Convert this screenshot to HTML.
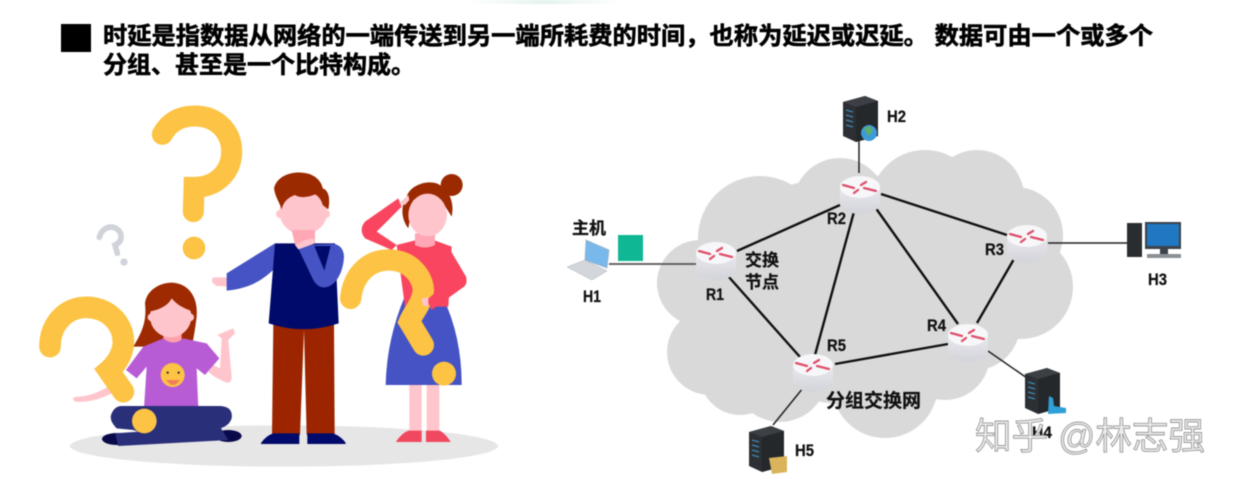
<!DOCTYPE html>
<html><head><meta charset="utf-8">
<style>
html,body{margin:0;padding:0;background:#fff;width:1236px;height:486px;overflow:hidden}
svg{display:block;position:absolute;left:0;top:0;filter:blur(.45px)}
.h{font:700 24px/1 "Liberation Sans","Noto Sans CJK SC",sans-serif;fill:#000;stroke:#000;stroke-width:.6px}
.l{font:700 17px "Liberation Sans","Noto Sans CJK SC",sans-serif;fill:#111;stroke:#111;stroke-width:.25px}
</style></head><body>
<svg width="1236" height="486" viewBox="0 0 1236 486" xmlns="http://www.w3.org/2000/svg">
<defs>
<linearGradient id="tg" x1="0" x2="1"><stop offset="0" stop-color="#fff"/><stop offset=".5" stop-color="#e3f3ee"/><stop offset="1" stop-color="#fff"/></linearGradient>
<linearGradient id="rb" x1="0" y1="0" x2="0" y2="1"><stop offset="0" stop-color="#e9e9ee"/><stop offset="1" stop-color="#d3d4da"/></linearGradient>
<g id="r">
<path d="M-20 0V17C-20 23-9 27 0 27S20 23 20 17V0Z" fill="url(#rb)"/>
<ellipse cx="0" cy="0" rx="20" ry="11" fill="#f7f7f9"/>
<g stroke="#df4f6c" stroke-width="2.3" fill="none" stroke-linecap="round">
<path d="M-17-2L-6 1M-6 6L-2 3M1-2L6-5M4 1L16 4"/>
</g>
</g>
<g id="s">
<path d="M0 6L22 0L35 5V40L13 46L0 40Z" fill="#2c2f33"/>
<path d="M0 6L22 0L35 5L13 11Z" fill="#3c4045"/>
<path d="M13 11L35 5V40L13 46Z" fill="#25282b"/>
<g stroke="#3f88b0" stroke-width="1.4"><path d="M3 14L10 16M3 19L10 21M3 24L10 26M3 29L10 31"/></g>
</g>
</defs>
<rect x="470" y="0" width="150" height="4" fill="url(#tg)"/>

<!-- heading -->
<rect x="61" y="24" width="30" height="28" fill="#000"/>
<text class="h" x="103" y="44" textLength="1050" lengthAdjust="spacingAndGlyphs">时延是指数据从网络的一端传送到另一端所耗费的时间，也称为延迟或迟延。 数据可由一个或多个</text>
<text class="h" x="103" y="73">分组、甚至是一个比特构成。</text>

<!-- illustration -->
<g transform="translate(0,90) scale(.33333)">
<ellipse cx="852" cy="1068" rx="642" ry="62" fill="#e6e6e6"/>
<!-- big ? -->
<path d="M487 133C510 92 545 78 585 78C650 78 695 125 695 185C695 245 650 292 582 292L580 365" fill="none" stroke="#fcc344" stroke-width="63" stroke-linecap="round"/>
<circle cx="582" cy="474" r="34" fill="#fcc344"/>
<!-- small ? -->
<path d="M298 442C305 415 330 405 348 415C370 430 368 455 345 465L352 490" fill="none" stroke="#d0d3d9" stroke-width="17" stroke-linecap="round"/>
<circle cx="372" cy="516" r="11" fill="#d0d3d9"/>

<!-- seated girl -->
<path d="M400 770C430 720 440 690 435 640C440 600 480 578 515 578C565 580 595 620 590 680C585 720 580 750 575 770Z" fill="#9d2a00"/>
<path d="M228 920C270 920 300 905 340 880L345 905C300 930 260 938 225 935Q212 925 228 920Z" fill="#ffc5cc"/>
<path d="M640 825L660 835L665 745L652 735L675 725L700 715L705 730L685 750L695 860Q695 880 680 878C660 870 640 860 625 845Z" fill="#ffc5cc"/>
<path d="M490 725H545V755Q520 775 490 755Z" fill="#ffa0ac"/>
<circle cx="512" cy="680" r="62" fill="#ffc5cc"/>
<circle cx="455" cy="682" r="12" fill="#ffc5cc"/><circle cx="570" cy="682" r="12" fill="#ffc5cc"/>
<path d="M445 665C480 660 505 645 515 625C530 645 560 660 585 665C590 620 555 585 510 585C470 585 440 620 445 665Z" fill="#9d2a00"/>
<path d="M430 770L490 745Q520 770 550 745L620 760L658 805L615 855L590 835L595 955H432L440 830L410 865L378 840Z" fill="#b85cd6"/>
<circle cx="518" cy="855" r="36" fill="#fcc344"/>
<path d="M498 870H540Q520 900 498 870Z" fill="#f07f5a"/>
<circle cx="503" cy="848" r="3.5" fill="#333"/><circle cx="536" cy="848" r="3.5" fill="#333"/>
<ellipse cx="350" cy="1047" rx="44" ry="18" fill="#0a0a4a"/>
<ellipse cx="685" cy="1038" rx="40" ry="18" fill="#0a0a4a"/>
<path d="M345 1030L660 1010L685 1050L355 1068Z" fill="#2a2f7a"/>
<path d="M365 948H660Q700 950 695 985Q685 1015 640 1018L480 1050L400 1020L350 1015Q325 990 335 970Q345 948 365 948Z" fill="#2a2f7a"/>
<!-- left ? -->
<path d="M150 770C150 700 200 650 262 652C330 655 372 705 370 760C368 800 340 830 326 842L370 905" fill="none" stroke="#fcc344" stroke-width="65" stroke-linecap="round"/>
<circle cx="433" cy="993" r="37" fill="#fcc344"/>

<!-- man -->
<path d="M640 562L690 562L690 590L650 588Q628 575 640 562Z" fill="#ffc5cc"/>
<path d="M825 460L680 550L680 602C750 595 790 570 830 530Z" fill="#4653c4"/>
<path d="M820 700H1002L1004 1035H920L912 720L900 1035H816Z" fill="#9c2500"/>
<path d="M782 1060Q800 1035 820 1030H898V1062H785ZM922 1030H1000Q1025 1040 1038 1060L1035 1062H922Z" fill="#000a6a"/>
<path d="M825 460L1005 460L1016 700Q910 735 806 700Z" fill="#000a6a"/>
<ellipse cx="910" cy="365" rx="72" ry="68" fill="#ffc5cc"/>
<circle cx="840" cy="372" r="12" fill="#ffc5cc"/><circle cx="978" cy="372" r="12" fill="#ffc5cc"/>
<path d="M875 420H945V460L915 465L885 465Z" fill="#ffa7b4"/>
<path d="M845 358C840 340 825 320 822 295C830 260 870 245 905 248C945 250 965 275 968 295C985 300 992 325 985 358L968 345C965 330 955 318 945 313C925 322 900 325 885 315C865 322 850 335 845 358Z" fill="#9c2a00"/>
<path d="M890 465L1000 462Q1030 465 1032 500C1030 550 1005 590 975 592Q950 595 935 560Z" fill="#4653c4"/>
<path d="M992 468L973 542L943 468Z" fill="#000a6a"/>
<path d="M940 445Q925 445 905 455L885 465L895 478L945 460Z" fill="#ffc5cc"/>

<!-- woman -->
<path d="M1228 880H1265V1030H1228ZM1280 880H1318V1030H1280Z" fill="#ffc5cc"/>
<path d="M1188 1055Q1205 1030 1225 1022H1265V1056H1190ZM1278 1022H1320Q1340 1035 1352 1056H1278Z" fill="#f0485f"/>
<path d="M1212 625H1330Q1385 740 1385 885H1157Q1160 750 1212 625Z" fill="#4653c4"/>
<path d="M1190 465L1250 450L1300 450L1355 470L1345 650H1215Z" fill="#f9455f"/>
<path d="M1195 325L1205 350L1130 425L1190 465L1175 480L1095 445Q1075 420 1095 395Z" fill="#f9455f"/>
<circle cx="1355" cy="285" r="33" fill="#9c2a00"/>
<path d="M1220 320C1230 285 1280 270 1310 280C1345 295 1365 335 1355 380L1330 340L1240 330L1225 415C1205 390 1200 350 1220 320Z" fill="#9c2a00"/>
<path d="M1245 430H1305V465Q1275 480 1245 465Z" fill="#ffa7b4"/>
<ellipse cx="1283" cy="375" rx="58" ry="64" fill="#ffc5cc"/>
<path d="M1197 340L1225 315L1228 330L1215 345Z" fill="#ffc5cc"/>
<!-- right ? -->
<path d="M1052 625C1060 550 1110 508 1170 510C1240 512 1270 570 1270 600C1268 640 1240 665 1228 695L1270 765" fill="none" stroke="#fcc344" stroke-width="64" stroke-linecap="round"/>
<circle cx="1332" cy="851" r="36" fill="#fcc344"/>
<path d="M1345 470L1398 560Q1405 585 1385 595L1295 660L1280 630L1350 570L1325 520Z" fill="#f9455f"/>
<path d="M1265 625L1285 622L1285 650L1268 645Z" fill="#ffc5cc"/>
</g>

<!-- cloud -->
<g fill="#d9d9d9">
<circle cx="700" cy="283" r="43"/><circle cx="710" cy="352" r="43"/>
<circle cx="760" cy="238" r="62"/><circle cx="840" cy="205" r="47"/>
<circle cx="925" cy="205" r="55"/><circle cx="977" cy="197" r="47"/>
<circle cx="1015" cy="235" r="48"/><circle cx="1021" cy="287" r="52"/>
<circle cx="975" cy="325" r="45"/><circle cx="945" cy="355" r="45"/>
<circle cx="885" cy="385" r="53"/><circle cx="780" cy="375" r="47"/>
<circle cx="740" cy="375" r="40"/>
<ellipse cx="860" cy="290" rx="170" ry="115"/>
</g>

<!-- links -->
<g stroke="#111" stroke-width="2.4" fill="none">
<path d="M737 251L840 205M728 276L800 357M855 208L815 355M881 194L1007 235M875 207L958 324M1014 259L977 323M835 364L948 344"/>
</g>
<g stroke="#222" stroke-width="1.5" fill="none">
<path d="M1048 243H1133M988 351L1027 378M803 388L773 425M859 140V173"/>
</g>
<path d="M609 264H697" stroke="#555" stroke-width="1.8"/>

<use href="#r" x="716" y="253"/>
<use href="#r" x="860" y="187"/>
<use href="#r" x="813" y="365"/>
<use href="#r" x="1027" y="236"/>
<use href="#r" x="968" y="335"/>

<!-- devices -->
<use href="#s" x="843" y="96"/>
<circle cx="869" cy="133" r="8" fill="#3d9bd8"/><path d="M864 128L870 126L873 131L868 136Z" fill="#5fae6c"/>
<use href="#s" x="749" y="426"/>
<path d="M769 458L787 456V472L772 474Z" fill="#d9b45a"/>
<use href="#s" x="1025" y="368"/>
<path d="M1049 396L1053 398L1054 406L1066 408V413L1048 414Z" fill="#2f9fd8"/>

<!-- H1 laptop -->
<path d="M586 240L609 250L607 268L585 260Z" fill="#79b8ea" stroke="#9fb4c6" stroke-width=".8"/>
<path d="M567 267L585 260L607 271L592 280Z" fill="#d3d7dc" stroke="#aab0b6" stroke-width=".5"/>
<!-- H3 pc -->
<rect x="1127" y="223" width="15" height="34" fill="#2a2d30"/>
<rect x="1145" y="222" width="36" height="27" fill="#3b424a"/>
<rect x="1147" y="224" width="32" height="22" fill="#1f78c1"/>
<rect x="1160" y="249" width="8" height="5" fill="#3b424a"/>
<rect x="1147" y="254" width="34" height="4" fill="#8b9095"/>

<rect x="618" y="235" width="25" height="26" fill="#10b795"/>

<!-- labels -->
<text class="l" x="583" y="302" textLength="18" lengthAdjust="spacingAndGlyphs">H1</text>
<text class="l" x="887" y="122" textLength="19" lengthAdjust="spacingAndGlyphs">H2</text>
<text class="l" x="1148" y="285" textLength="19" lengthAdjust="spacingAndGlyphs">H3</text>
<text class="l" x="795" y="456" textLength="19" lengthAdjust="spacingAndGlyphs">H5</text>
<text class="l" x="706" y="300" textLength="18" lengthAdjust="spacingAndGlyphs">R1</text>
<text class="l" x="827" y="224" textLength="19" lengthAdjust="spacingAndGlyphs">R2</text>
<text class="l" x="985" y="255" textLength="19" lengthAdjust="spacingAndGlyphs">R3</text>
<text class="l" x="927" y="331" textLength="19" lengthAdjust="spacingAndGlyphs">R4</text>
<text class="l" x="827" y="351" textLength="19" lengthAdjust="spacingAndGlyphs">R5</text>
<text class="l" x="572" y="234">主机</text>
<text class="l" x="745" y="266">交换</text>
<text class="l" x="745" y="288">节点</text>
<text class="l" x="826" y="407" style="font-size:19px">分组交换网</text>
<text class="l" x="1032" y="438" textLength="20" lengthAdjust="spacingAndGlyphs">H4</text>
<text x="975" y="449" textLength="230" lengthAdjust="spacingAndGlyphs" style="font:400 37px 'Liberation Sans','Noto Sans CJK SC',sans-serif;fill:#ececec;stroke:#9a9a9a;stroke-width:.9px">知乎 @林志强</text>
</svg>
</body></html>
